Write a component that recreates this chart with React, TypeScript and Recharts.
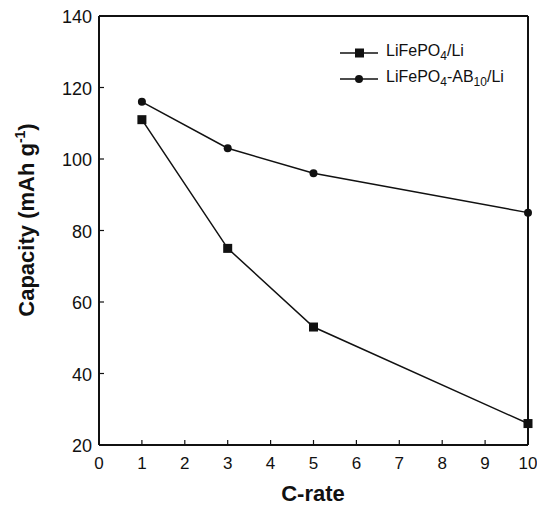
import { Line, LineChart, ReferenceLine, XAxis, YAxis } from "recharts";

const cRate = [1, 3, 5, 10];
const lfpLi = [111, 75, 53, 26];
const lfpAbLi = [116, 103, 96, 85];
const xTicks = [0, 1, 2, 3, 4, 5, 6, 7, 8, 9, 10];
const yTicks = [20, 40, 60, 80, 100, 120, 140];

const data = cRate.map((c, i) => ({ c, lfp: lfpLi[i], lfpAb: lfpAbLi[i] }));

const FONT = "'Liberation Sans', Arial, Helvetica, sans-serif";
const INK = "#111";

function XTick({ x, y, payload }: any) {
  return (
    <g>
      <line x1={x} y1={y} x2={x} y2={y - 5} stroke={INK} strokeWidth={1.2} />
      <text x={x} y={y + 24} textAnchor="middle" fontSize={17} fontFamily={FONT} fill={INK}>
        {payload.value}
      </text>
    </g>
  );
}

function YTick({ x, y, payload }: any) {
  return (
    <g>
      <line x1={x} y1={y} x2={x + 5} y2={y} stroke={INK} strokeWidth={1.2} />
      <text x={x - 7} y={y + 7} textAnchor="end" fontSize={18} fontFamily={FONT} fill={INK}>
        {payload.value}
      </text>
    </g>
  );
}

function SquareDot({ cx, cy }: any) {
  return <rect x={cx - 4.5} y={cy - 4.5} width={9} height={9} fill={INK} />;
}

function LegendRow({ marker, children }: { marker: "square" | "circle"; children: any }) {
  return (
    <div style={{ display: "flex", alignItems: "center", height: 26 }}>
      <svg width={40} height={12} style={{ marginRight: 6 }}>
        <line x1={0} y1={6} x2={38} y2={6} stroke={INK} strokeWidth={1.5} />
        {marker === "square" ? (
          <rect x={15} y={1.5} width={9} height={9} fill={INK} />
        ) : (
          <circle cx={19} cy={6} r={4} fill={INK} />
        )}
      </svg>
      <span>{children}</span>
    </div>
  );
}

export default function App() {
  return (
    <div style={{ position: "absolute", left: 0, top: 0, width: 537, height: 507, background: "#fff" }}>
      <LineChart width={537} height={507} data={data} margin={{ top: 16, right: 9, bottom: 0, left: 40 }}>
        <XAxis
          dataKey="c"
          type="number"
          domain={[0, 10]}
          ticks={xTicks}
          interval={0}
          height={62}
          tickSize={0}
          tickMargin={0}
          tickLine={false}
          tick={<XTick />}
          axisLine={{ stroke: INK, strokeWidth: 2 }}
          label={() => (
            <text
              x={313}
              y={501}
              textAnchor="middle"
              fontFamily={FONT}
              fontSize={22}
              fontWeight="bold"
              fill={INK}
            >
              C-rate
            </text>
          )}
        />
        <YAxis
          type="number"
          domain={[20, 140]}
          ticks={yTicks}
          interval={0}
          width={59}
          tickSize={0}
          tickMargin={0}
          tickLine={false}
          tick={<YTick />}
          axisLine={{ stroke: INK, strokeWidth: 2 }}
          label={() => (
            <text
              transform="translate(34,220) rotate(-90)"
              textAnchor="middle"
              fontFamily={FONT}
              fontSize={22}
              fontWeight="bold"
              fill={INK}
            >
              Capacity (mAh g
              <tspan dy={-9} fontSize={14}>-1</tspan>
              <tspan dy={9}>)</tspan>
            </text>
          )}
        />
        <ReferenceLine y={140} stroke={INK} strokeWidth={2} ifOverflow="visible" />
        <ReferenceLine x={10} stroke={INK} strokeWidth={2} ifOverflow="visible" />
        <Line
          dataKey="lfp"
          stroke={INK}
          strokeWidth={1.5}
          dot={<SquareDot />}
          isAnimationActive={false}
        />
        <Line
          dataKey="lfpAb"
          stroke={INK}
          strokeWidth={1.5}
          dot={{ r: 4, fill: INK, stroke: "none" }}
          isAnimationActive={false}
        />
      </LineChart>
      <div
        style={{
          position: "absolute",
          left: 340,
          top: 40,
          fontFamily: FONT,
          fontSize: 16,
          color: INK,
        }}
      >
        <LegendRow marker="square">
          LiFePO<sub style={{ fontSize: 12 }}>4</sub>/Li
        </LegendRow>
        <LegendRow marker="circle">
          LiFePO<sub style={{ fontSize: 12 }}>4</sub>-AB<sub style={{ fontSize: 12 }}>10</sub>/Li
        </LegendRow>
      </div>
    </div>
  );
}
